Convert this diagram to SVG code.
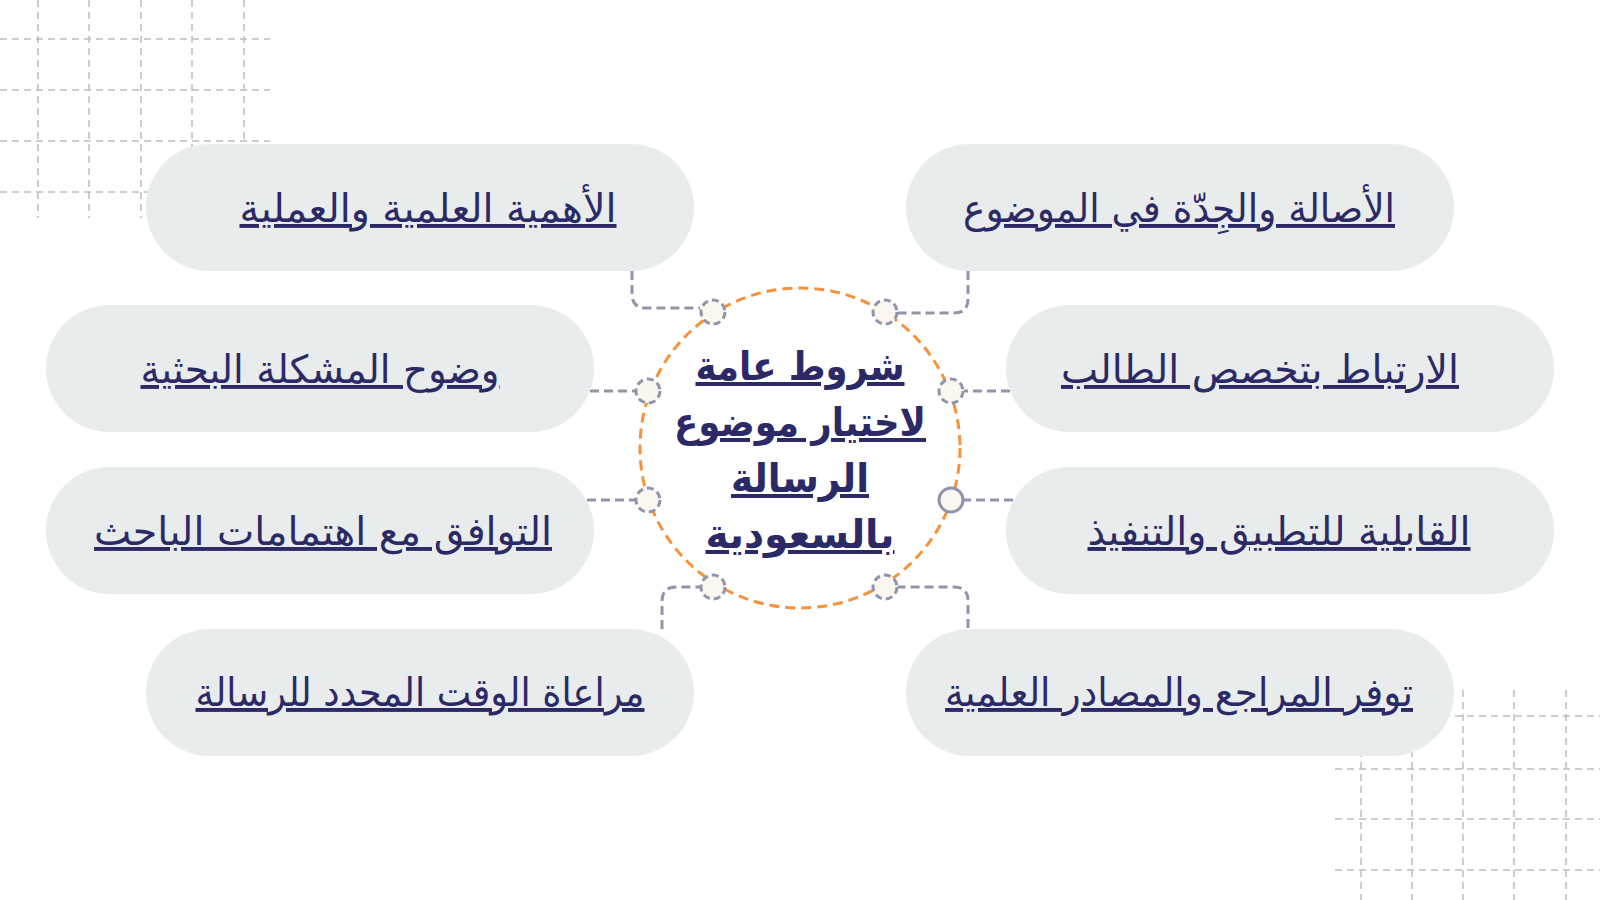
<svg xmlns="http://www.w3.org/2000/svg" width="1600" height="900" viewBox="0 0 1600 900">
<style>
.grid line{stroke:#BDBDBD;stroke-width:1.5;stroke-dasharray:7 5;fill:none}
.pill{fill:#E8ECEC}
.lbl{font-family:"DejaVu Sans",sans-serif;font-size:39px;fill:#2B2966;text-anchor:middle;text-decoration:underline}
.ctr{font-family:"DejaVu Sans",sans-serif;font-size:40px;font-weight:bold;fill:#2B2966;text-anchor:middle;text-decoration:underline}
.conn path{fill:none;stroke:#9194AA;stroke-width:3;stroke-dasharray:9 5}
.dot{fill:#FBF6EF;stroke:#9194AA;stroke-width:3;stroke-dasharray:7 4}
</style>
<rect width="1600" height="900" fill="#FFFFFF"/>
<g class="grid" id="grid-tl">
<line x1="0" y1="39" x2="270" y2="39"/><line x1="0" y1="90" x2="270" y2="90"/><line x1="0" y1="141" x2="270" y2="141"/><line x1="0" y1="192" x2="270" y2="192"/>
<line x1="38" y1="0" x2="38" y2="218"/><line x1="89" y1="0" x2="89" y2="218"/><line x1="141" y1="0" x2="141" y2="218"/><line x1="192" y1="0" x2="192" y2="218"/><line x1="244" y1="0" x2="244" y2="218"/>
</g>
<g class="grid" id="grid-br">
<line x1="1335" y1="716" x2="1600" y2="716"/><line x1="1335" y1="769" x2="1600" y2="769"/><line x1="1335" y1="819" x2="1600" y2="819"/><line x1="1335" y1="870" x2="1600" y2="870"/>
<line x1="1361" y1="690" x2="1361" y2="900"/><line x1="1412" y1="690" x2="1412" y2="900"/><line x1="1463" y1="690" x2="1463" y2="900"/><line x1="1514" y1="690" x2="1514" y2="900"/><line x1="1566" y1="690" x2="1566" y2="900"/>
</g>
<g class="conn" id="connectors">
<path d="M632 271 V294 Q632 308 646 308 H700"/>
<path d="M968 271 V299 Q968 313 954 313 H898"/>
<path d="M590 391 H635"/>
<path d="M1010 391 H964"/>
<path d="M587 500 H635"/>
<path d="M1013 500 H964"/>
<path d="M662 629 V601 Q662 587 676 587 H700"/>
<path d="M968 628 V601 Q968 587 954 587 H898"/>
</g>
<g id="n1"><rect class="pill" x="146" y="144" width="548" height="127" rx="63.5"/><text class="lbl" x="428" y="222" textLength="377" lengthAdjust="spacingAndGlyphs">الأهمية العلمية والعملية</text></g>
<g id="n2"><rect class="pill" x="906" y="144" width="548" height="127" rx="63.5"/><text class="lbl" x="1179" y="222" textLength="432" lengthAdjust="spacingAndGlyphs">الأصالة والجِدّة في الموضوع</text></g>
<g id="n3"><rect class="pill" x="46" y="305" width="548" height="127" rx="63.5"/><text class="lbl" x="320" y="383" textLength="359" lengthAdjust="spacingAndGlyphs">وضوح المشكلة البحثية</text></g>
<g id="n4"><rect class="pill" x="1006" y="305" width="548" height="127" rx="63.5"/><text class="lbl" x="1260" y="383" textLength="398" lengthAdjust="spacingAndGlyphs">الارتباط بتخصص الطالب</text></g>
<g id="n5"><rect class="pill" x="46" y="467" width="548" height="127" rx="63.5"/><text class="lbl" x="323" y="545" textLength="458" lengthAdjust="spacingAndGlyphs">التوافق مع اهتمامات الباحث</text></g>
<g id="n6"><rect class="pill" x="1006" y="467" width="548" height="127" rx="63.5"/><text class="lbl" x="1279" y="545" textLength="383" lengthAdjust="spacingAndGlyphs">القابلية للتطبيق والتنفيذ</text></g>
<g id="n7"><rect class="pill" x="146" y="629" width="548" height="127" rx="63.5"/><text class="lbl" x="420" y="706" textLength="449" lengthAdjust="spacingAndGlyphs">مراعاة الوقت المحدد للرسالة</text></g>
<g id="n8"><rect class="pill" x="906" y="629" width="548" height="127" rx="63.5"/><text class="lbl" x="1179" y="706" textLength="468" lengthAdjust="spacingAndGlyphs">توفر المراجع والمصادر العلمية</text></g>
<g id="center">
<circle cx="800" cy="448" r="160" fill="#FFFFFF" stroke="#F7923A" stroke-width="3" stroke-dasharray="10 6"/>
<text class="ctr" x="800" y="380" textLength="209" lengthAdjust="spacingAndGlyphs">شروط عامة</text>
<text class="ctr" x="800" y="436" textLength="252" lengthAdjust="spacingAndGlyphs">لاختيار موضوع</text>
<text class="ctr" x="800" y="492" textLength="138" lengthAdjust="spacingAndGlyphs">الرسالة</text>
<text class="ctr" x="800" y="548" textLength="189" lengthAdjust="spacingAndGlyphs">بالسعودية</text>
</g>
<g id="ports">
<circle class="dot" cx="713" cy="312" r="12"/>
<circle class="dot" cx="885" cy="312" r="12"/>
<circle class="dot" cx="648" cy="391" r="12"/>
<circle class="dot" cx="951" cy="391" r="12"/>
<circle class="dot" cx="648" cy="500" r="12"/>
<circle cx="951" cy="500" r="12" fill="#FBF6EF" stroke="#9194AA" stroke-width="3"/>
<circle class="dot" cx="713" cy="587" r="12"/>
<circle class="dot" cx="885" cy="587" r="12"/>
</g>
</svg>
